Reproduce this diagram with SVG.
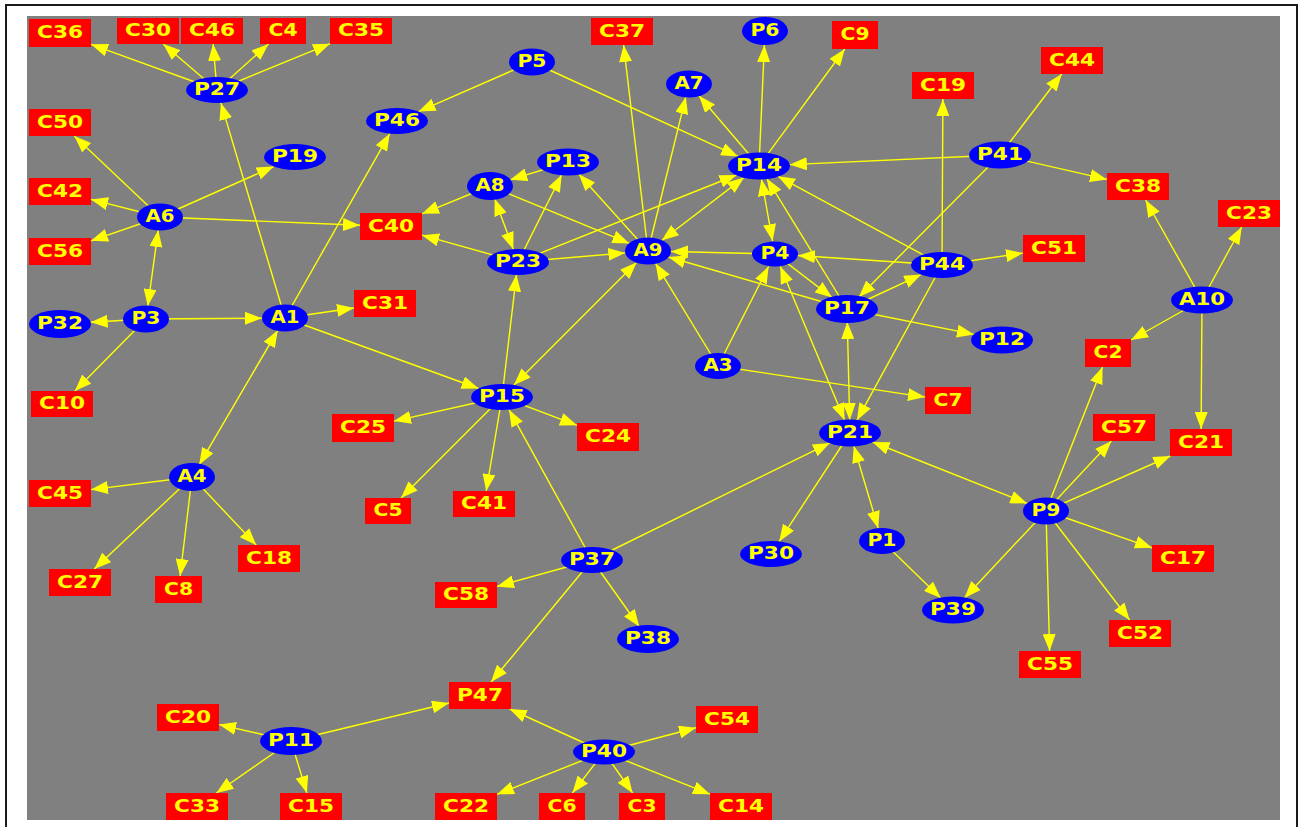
<svg xmlns="http://www.w3.org/2000/svg" width="1300" height="827" viewBox="0 0 1300 827">
  <defs>
    <marker id="ah" markerUnits="userSpaceOnUse" markerWidth="17" markerHeight="13" refX="17" refY="6.5" orient="auto-start-reverse" viewBox="0 0 17 13">
      <path d="M0,0 L17,6.5 L0,13 z" fill="#ffff00"/>
    </marker>
    <style>
      .e { stroke: #ffff00; stroke-width: 1.4; fill: none; marker-end: url(#ah); }
      .b { marker-start: url(#ah); }
      .o { fill: #0000ff; }
      .r { fill: #ff0000; }
      text { font-family: "DejaVu Sans", "Liberation Sans", sans-serif; font-weight: bold; font-size: 17px; fill: #ffff00; text-anchor: middle; }
    </style>
  </defs>

  <!-- page and canvas -->
  <rect x="0" y="0" width="1300" height="827" fill="#ffffff"/>
  <rect x="6" y="5" width="1291" height="830" fill="none" stroke="#1a1a1a" stroke-width="2"/>
  <rect x="27" y="16" width="1253" height="804" fill="#808080"/>

  <g id="connectors">
    <line class="e" x1="217" y1="90" x2="91" y2="44.3"/>
    <line class="e" x1="217" y1="90" x2="163.2" y2="44"/>
    <line class="e" x1="217" y1="90" x2="213.1" y2="44"/>
    <line class="e" x1="217" y1="90" x2="268.5" y2="44"/>
    <line class="e" x1="217" y1="90" x2="330" y2="43.7"/>
    <line class="e" x1="285" y1="318" x2="220.9" y2="102.9"/>
    <line class="e" x1="160" y1="217" x2="74.3" y2="136"/>
    <line class="e" x1="160" y1="217" x2="91" y2="199.4"/>
    <line class="e" x1="160" y1="217" x2="91" y2="240.8"/>
    <line class="e" x1="160" y1="217" x2="273.7" y2="166.5"/>
    <line class="e" x1="160" y1="217" x2="360" y2="225.2"/>
    <line class="e b" x1="147.8" y1="306" x2="158.2" y2="230"/>
    <line class="e" x1="146" y1="319" x2="90.7" y2="322.2"/>
    <line class="e" x1="146" y1="319" x2="262" y2="318.2"/>
    <line class="e" x1="146" y1="319" x2="74.9" y2="391"/>
    <line class="e" x1="285" y1="318" x2="354" y2="308"/>
    <line class="e" x1="285" y1="318" x2="389.8" y2="133.6"/>
    <line class="e" x1="285" y1="318" x2="478.6" y2="388.5"/>
    <line class="e b" x1="277.8" y1="330.3" x2="199.2" y2="464.7"/>
    <line class="e" x1="192" y1="477" x2="91" y2="489.6"/>
    <line class="e" x1="192" y1="477" x2="94.3" y2="569"/>
    <line class="e" x1="192" y1="477" x2="180.1" y2="576"/>
    <line class="e" x1="192" y1="477" x2="256.2" y2="545"/>
    <line class="e" x1="532" y1="62" x2="418.5" y2="111.6"/>
    <line class="e" x1="532" y1="62" x2="738.1" y2="156.4"/>
    <line class="e" x1="568" y1="162" x2="510.2" y2="179.8"/>
    <line class="e" x1="490" y1="186" x2="422" y2="213.8"/>
    <line class="e b" x1="513.3" y1="249.2" x2="494.7" y2="198.7"/>
    <line class="e" x1="490" y1="186" x2="629.4" y2="243.4"/>
    <line class="e" x1="518" y1="262" x2="422" y2="235.2"/>
    <line class="e" x1="518" y1="262" x2="561.7" y2="174.7"/>
    <line class="e" x1="518" y1="262" x2="625.3" y2="252.9"/>
    <line class="e" x1="518" y1="262" x2="736.5" y2="175"/>
    <line class="e" x1="502" y1="397" x2="516.5" y2="274.5"/>
    <line class="e b" x1="514" y1="385" x2="636.7" y2="262.3"/>
    <line class="e" x1="648" y1="251" x2="623.6" y2="45"/>
    <line class="e" x1="648" y1="251" x2="685.8" y2="96.9"/>
    <line class="e" x1="648" y1="251" x2="578.9" y2="174.2"/>
    <line class="e b" x1="744.1" y1="177.4" x2="661.7" y2="240.5"/>
    <line class="e" x1="775" y1="254" x2="671" y2="251.5"/>
    <line class="e" x1="847" y1="309" x2="668.4" y2="257"/>
    <line class="e" x1="718" y1="366" x2="655.5" y2="263.3"/>
    <line class="e" x1="718" y1="366" x2="768.6" y2="266.5"/>
    <line class="e" x1="718" y1="366" x2="925" y2="397.1"/>
    <line class="e" x1="759" y1="166" x2="699" y2="95.7"/>
    <line class="e" x1="759" y1="166" x2="764.4" y2="45"/>
    <line class="e" x1="759" y1="166" x2="844.8" y2="49"/>
    <line class="e" x1="1000" y1="155" x2="789.8" y2="164.6"/>
    <line class="e b" x1="772.6" y1="241.1" x2="761.4" y2="179"/>
    <line class="e" x1="847" y1="309" x2="766.8" y2="178.6"/>
    <line class="e" x1="942" y1="265" x2="778" y2="176.3"/>
    <line class="e" x1="942" y1="265" x2="797.9" y2="255.5"/>
    <line class="e" x1="942" y1="265" x2="942.9" y2="99"/>
    <line class="e" x1="942" y1="265" x2="1023" y2="253.1"/>
    <line class="e" x1="847" y1="309" x2="921.2" y2="274.6"/>
    <line class="e" x1="942" y1="265" x2="856.9" y2="420.3"/>
    <line class="e" x1="1000" y1="155" x2="858.9" y2="297"/>
    <line class="e" x1="1000" y1="155" x2="1061.7" y2="74"/>
    <line class="e" x1="1000" y1="155" x2="1107" y2="179.4"/>
    <line class="e" x1="775" y1="254" x2="832.1" y2="297.6"/>
    <line class="e" x1="847" y1="309" x2="974" y2="334.4"/>
    <line class="e b" x1="847.3" y1="322" x2="849.7" y2="420"/>
    <line class="e b" x1="780.3" y1="266.6" x2="844.6" y2="420.2"/>
    <line class="e" x1="850" y1="433" x2="779.2" y2="541.4"/>
    <line class="e b" x1="853.8" y1="445.9" x2="878.2" y2="528.2"/>
    <line class="e b" x1="872.5" y1="442" x2="1027.2" y2="503.5"/>
    <line class="e" x1="592" y1="560" x2="829.9" y2="442.9"/>
    <line class="e" x1="882" y1="541" x2="940.7" y2="598.1"/>
    <line class="e" x1="1046" y1="511" x2="964.4" y2="597.9"/>
    <line class="e" x1="1046" y1="511" x2="1102.5" y2="367"/>
    <line class="e" x1="1046" y1="511" x2="1111.4" y2="441"/>
    <line class="e" x1="1046" y1="511" x2="1170.4" y2="456"/>
    <line class="e" x1="1046" y1="511" x2="1152" y2="547.8"/>
    <line class="e" x1="1046" y1="511" x2="1129.6" y2="620"/>
    <line class="e" x1="1046" y1="511" x2="1049.6" y2="651"/>
    <line class="e" x1="1202" y1="300" x2="1145.6" y2="200"/>
    <line class="e" x1="1202" y1="300" x2="1241.7" y2="227"/>
    <line class="e" x1="1202" y1="300" x2="1131" y2="340"/>
    <line class="e" x1="1202" y1="300" x2="1201.1" y2="429"/>
    <line class="e" x1="502" y1="397" x2="394" y2="421.1"/>
    <line class="e" x1="502" y1="397" x2="577" y2="425.3"/>
    <line class="e" x1="502" y1="397" x2="401" y2="498"/>
    <line class="e" x1="502" y1="397" x2="486.2" y2="491"/>
    <line class="e" x1="592" y1="560" x2="509" y2="409.7"/>
    <line class="e" x1="592" y1="560" x2="497" y2="586.4"/>
    <line class="e" x1="592" y1="560" x2="639.2" y2="626.5"/>
    <line class="e" x1="592" y1="560" x2="491.1" y2="682"/>
    <line class="e" x1="291" y1="741" x2="219" y2="724.6"/>
    <line class="e" x1="291" y1="741" x2="216.4" y2="793"/>
    <line class="e" x1="291" y1="741" x2="306.9" y2="793"/>
    <line class="e" x1="291" y1="741" x2="449" y2="703"/>
    <line class="e" x1="604" y1="752" x2="509.7" y2="709"/>
    <line class="e" x1="604" y1="752" x2="696" y2="727.7"/>
    <line class="e" x1="604" y1="752" x2="497" y2="794.3"/>
    <line class="e" x1="604" y1="752" x2="572.4" y2="793"/>
    <line class="e" x1="604" y1="752" x2="632.6" y2="793"/>
    <line class="e" x1="604" y1="752" x2="710" y2="794.2"/>
  </g>

  <!-- oval nodes -->
  <g id="P27"><ellipse class="o" cx="217" cy="90" rx="31" ry="13"/><text x="217" y="95" textLength="46" lengthAdjust="spacingAndGlyphs">P27</text></g>
  <g id="P46"><ellipse class="o" cx="397" cy="121" rx="31" ry="13"/><text x="397" y="126" textLength="46" lengthAdjust="spacingAndGlyphs">P46</text></g>
  <g id="P19"><ellipse class="o" cx="295" cy="157" rx="31" ry="13"/><text x="295" y="162" textLength="46" lengthAdjust="spacingAndGlyphs">P19</text></g>
  <g id="A6"><ellipse class="o" cx="160" cy="217" rx="23" ry="13.5"/><text x="160" y="222" textLength="29" lengthAdjust="spacingAndGlyphs">A6</text></g>
  <g id="P5"><ellipse class="o" cx="532" cy="62" rx="23" ry="13.5"/><text x="532" y="67" textLength="29" lengthAdjust="spacingAndGlyphs">P5</text></g>
  <g id="P6"><ellipse class="o" cx="765" cy="31" rx="23" ry="14"/><text x="765" y="36" textLength="29" lengthAdjust="spacingAndGlyphs">P6</text></g>
  <g id="A7"><ellipse class="o" cx="689" cy="84" rx="23" ry="13.5"/><text x="689" y="89" textLength="29" lengthAdjust="spacingAndGlyphs">A7</text></g>
  <g id="P13"><ellipse class="o" cx="568" cy="162" rx="31" ry="13.5"/><text x="568" y="167" textLength="46" lengthAdjust="spacingAndGlyphs">P13</text></g>
  <g id="P14"><ellipse class="o" cx="759" cy="166" rx="31" ry="13.5"/><text x="759" y="171" textLength="46" lengthAdjust="spacingAndGlyphs">P14</text></g>
  <g id="A8"><ellipse class="o" cx="490" cy="186" rx="23" ry="14"/><text x="490" y="191" textLength="29" lengthAdjust="spacingAndGlyphs">A8</text></g>
  <g id="A9"><ellipse class="o" cx="648" cy="251" rx="23" ry="13.5"/><text x="648" y="256" textLength="29" lengthAdjust="spacingAndGlyphs">A9</text></g>
  <g id="P4"><ellipse class="o" cx="775" cy="254" rx="23" ry="12.5"/><text x="775" y="259" textLength="29" lengthAdjust="spacingAndGlyphs">P4</text></g>
  <g id="P23"><ellipse class="o" cx="518" cy="262" rx="31" ry="13"/><text x="518" y="267" textLength="46" lengthAdjust="spacingAndGlyphs">P23</text></g>
  <g id="P41"><ellipse class="o" cx="1000" cy="155" rx="31" ry="13.5"/><text x="1000" y="160" textLength="46" lengthAdjust="spacingAndGlyphs">P41</text></g>
  <g id="P44"><ellipse class="o" cx="942" cy="265" rx="31" ry="13"/><text x="942" y="270" textLength="46" lengthAdjust="spacingAndGlyphs">P44</text></g>
  <g id="P32"><ellipse class="o" cx="60" cy="324" rx="31" ry="14"/><text x="60" y="329" textLength="46" lengthAdjust="spacingAndGlyphs">P32</text></g>
  <g id="P3"><ellipse class="o" cx="146" cy="319" rx="23" ry="13.5"/><text x="146" y="324" textLength="29" lengthAdjust="spacingAndGlyphs">P3</text></g>
  <g id="A1"><ellipse class="o" cx="285" cy="318" rx="23" ry="13.5"/><text x="285" y="323" textLength="29" lengthAdjust="spacingAndGlyphs">A1</text></g>
  <g id="A4"><ellipse class="o" cx="192" cy="477" rx="23" ry="14"/><text x="192" y="482" textLength="29" lengthAdjust="spacingAndGlyphs">A4</text></g>
  <g id="P15"><ellipse class="o" cx="502" cy="397" rx="31" ry="13"/><text x="502" y="402" textLength="46" lengthAdjust="spacingAndGlyphs">P15</text></g>
  <g id="A3"><ellipse class="o" cx="718" cy="366" rx="23" ry="13"/><text x="718" y="371" textLength="29" lengthAdjust="spacingAndGlyphs">A3</text></g>
  <g id="P17"><ellipse class="o" cx="847" cy="309" rx="31" ry="14"/><text x="847" y="314" textLength="46" lengthAdjust="spacingAndGlyphs">P17</text></g>
  <g id="P21"><ellipse class="o" cx="850" cy="433" rx="31" ry="13.5"/><text x="850" y="438" textLength="46" lengthAdjust="spacingAndGlyphs">P21</text></g>
  <g id="A10"><ellipse class="o" cx="1202" cy="300" rx="31" ry="13.5"/><text x="1202" y="305" textLength="46" lengthAdjust="spacingAndGlyphs">A10</text></g>
  <g id="P12"><ellipse class="o" cx="1002" cy="340" rx="31" ry="13.5"/><text x="1002" y="345" textLength="46" lengthAdjust="spacingAndGlyphs">P12</text></g>
  <g id="P9"><ellipse class="o" cx="1046" cy="511" rx="23" ry="13.5"/><text x="1046" y="516" textLength="29" lengthAdjust="spacingAndGlyphs">P9</text></g>
  <g id="P1"><ellipse class="o" cx="882" cy="541" rx="23" ry="13"/><text x="882" y="546" textLength="29" lengthAdjust="spacingAndGlyphs">P1</text></g>
  <g id="P30"><ellipse class="o" cx="771" cy="554" rx="31" ry="13"/><text x="771" y="559" textLength="46" lengthAdjust="spacingAndGlyphs">P30</text></g>
  <g id="P37"><ellipse class="o" cx="592" cy="560" rx="31" ry="13"/><text x="592" y="565" textLength="46" lengthAdjust="spacingAndGlyphs">P37</text></g>
  <g id="P38"><ellipse class="o" cx="648" cy="639" rx="31" ry="14"/><text x="648" y="644" textLength="46" lengthAdjust="spacingAndGlyphs">P38</text></g>
  <g id="P39"><ellipse class="o" cx="953" cy="610" rx="31" ry="13.5"/><text x="953" y="615" textLength="46" lengthAdjust="spacingAndGlyphs">P39</text></g>
  <g id="P11"><ellipse class="o" cx="291" cy="741" rx="31" ry="14"/><text x="291" y="746" textLength="46" lengthAdjust="spacingAndGlyphs">P11</text></g>
  <g id="P40"><ellipse class="o" cx="604" cy="752" rx="31" ry="12.5"/><text x="604" y="757" textLength="46" lengthAdjust="spacingAndGlyphs">P40</text></g>

  <!-- box nodes -->
  <g id="C36"><rect class="r" x="29" y="19" width="62" height="28"/><text x="60" y="38" textLength="46" lengthAdjust="spacingAndGlyphs">C36</text></g>
  <g id="C30"><rect class="r" x="117" y="18" width="62" height="26"/><text x="148" y="36" textLength="46" lengthAdjust="spacingAndGlyphs">C30</text></g>
  <g id="C46"><rect class="r" x="181" y="18" width="62" height="26"/><text x="212" y="36" textLength="46" lengthAdjust="spacingAndGlyphs">C46</text></g>
  <g id="C4"><rect class="r" x="260" y="18" width="46" height="26"/><text x="283" y="36" textLength="29" lengthAdjust="spacingAndGlyphs">C4</text></g>
  <g id="C35"><rect class="r" x="330" y="18" width="62" height="26"/><text x="361" y="36" textLength="46" lengthAdjust="spacingAndGlyphs">C35</text></g>
  <g id="C50"><rect class="r" x="29" y="109" width="62" height="27"/><text x="60" y="128" textLength="46" lengthAdjust="spacingAndGlyphs">C50</text></g>
  <g id="C42"><rect class="r" x="29" y="178" width="62" height="27"/><text x="60" y="197" textLength="46" lengthAdjust="spacingAndGlyphs">C42</text></g>
  <g id="C56"><rect class="r" x="29" y="238" width="62" height="27"/><text x="60" y="257" textLength="46" lengthAdjust="spacingAndGlyphs">C56</text></g>
  <g id="C40"><rect class="r" x="360" y="213" width="62" height="27"/><text x="391" y="232" textLength="46" lengthAdjust="spacingAndGlyphs">C40</text></g>
  <g id="C37"><rect class="r" x="591" y="18" width="62" height="27"/><text x="622" y="37" textLength="46" lengthAdjust="spacingAndGlyphs">C37</text></g>
  <g id="C9"><rect class="r" x="832" y="21" width="46" height="28"/><text x="855" y="40" textLength="29" lengthAdjust="spacingAndGlyphs">C9</text></g>
  <g id="C44"><rect class="r" x="1041" y="47" width="62" height="27"/><text x="1072" y="66" textLength="46" lengthAdjust="spacingAndGlyphs">C44</text></g>
  <g id="C19"><rect class="r" x="912" y="72" width="62" height="27"/><text x="943" y="91" textLength="46" lengthAdjust="spacingAndGlyphs">C19</text></g>
  <g id="C38"><rect class="r" x="1107" y="173" width="62" height="27"/><text x="1138" y="192" textLength="46" lengthAdjust="spacingAndGlyphs">C38</text></g>
  <g id="C23"><rect class="r" x="1218" y="200" width="62" height="27"/><text x="1249" y="219" textLength="46" lengthAdjust="spacingAndGlyphs">C23</text></g>
  <g id="C51"><rect class="r" x="1023" y="235" width="62" height="27"/><text x="1054" y="254" textLength="46" lengthAdjust="spacingAndGlyphs">C51</text></g>
  <g id="C31"><rect class="r" x="354" y="290" width="62" height="27"/><text x="385" y="309" textLength="46" lengthAdjust="spacingAndGlyphs">C31</text></g>
  <g id="C10"><rect class="r" x="31" y="391" width="62" height="26"/><text x="62" y="409" textLength="46" lengthAdjust="spacingAndGlyphs">C10</text></g>
  <g id="C25"><rect class="r" x="332" y="414" width="62" height="28"/><text x="363" y="433" textLength="46" lengthAdjust="spacingAndGlyphs">C25</text></g>
  <g id="C45"><rect class="r" x="29" y="480" width="62" height="27"/><text x="60" y="499" textLength="46" lengthAdjust="spacingAndGlyphs">C45</text></g>
  <g id="C5"><rect class="r" x="365" y="498" width="46" height="26"/><text x="388" y="516" textLength="29" lengthAdjust="spacingAndGlyphs">C5</text></g>
  <g id="C18"><rect class="r" x="238" y="545" width="62" height="27"/><text x="269" y="564" textLength="46" lengthAdjust="spacingAndGlyphs">C18</text></g>
  <g id="C24"><rect class="r" x="577" y="423" width="62" height="28"/><text x="608" y="442" textLength="46" lengthAdjust="spacingAndGlyphs">C24</text></g>
  <g id="C41"><rect class="r" x="453" y="491" width="62" height="26"/><text x="484" y="509" textLength="46" lengthAdjust="spacingAndGlyphs">C41</text></g>
  <g id="C2"><rect class="r" x="1085" y="339" width="46" height="28"/><text x="1108" y="358" textLength="29" lengthAdjust="spacingAndGlyphs">C2</text></g>
  <g id="C7"><rect class="r" x="925" y="387" width="46" height="27"/><text x="948" y="406" textLength="29" lengthAdjust="spacingAndGlyphs">C7</text></g>
  <g id="C57"><rect class="r" x="1093" y="414" width="62" height="27"/><text x="1124" y="433" textLength="46" lengthAdjust="spacingAndGlyphs">C57</text></g>
  <g id="C21"><rect class="r" x="1170" y="429" width="62" height="27"/><text x="1201" y="448" textLength="46" lengthAdjust="spacingAndGlyphs">C21</text></g>
  <g id="C17"><rect class="r" x="1152" y="545" width="62" height="27"/><text x="1183" y="564" textLength="46" lengthAdjust="spacingAndGlyphs">C17</text></g>
  <g id="C27"><rect class="r" x="49" y="569" width="62" height="27"/><text x="80" y="588" textLength="46" lengthAdjust="spacingAndGlyphs">C27</text></g>
  <g id="C8"><rect class="r" x="155" y="576" width="47" height="27"/><text x="178.5" y="595" textLength="29" lengthAdjust="spacingAndGlyphs">C8</text></g>
  <g id="C20"><rect class="r" x="157" y="704" width="62" height="27"/><text x="188" y="723" textLength="46" lengthAdjust="spacingAndGlyphs">C20</text></g>
  <g id="C33"><rect class="r" x="166" y="793" width="62" height="27"/><text x="197" y="812" textLength="46" lengthAdjust="spacingAndGlyphs">C33</text></g>
  <g id="C15"><rect class="r" x="280" y="793" width="62" height="27"/><text x="311" y="812" textLength="46" lengthAdjust="spacingAndGlyphs">C15</text></g>
  <g id="C58"><rect class="r" x="435" y="582" width="62" height="26"/><text x="466" y="600" textLength="46" lengthAdjust="spacingAndGlyphs">C58</text></g>
  <g id="P47"><rect class="r" x="449" y="682" width="62" height="27"/><text x="480" y="701" textLength="46" lengthAdjust="spacingAndGlyphs">P47</text></g>
  <g id="C54"><rect class="r" x="696" y="706" width="62" height="27"/><text x="727" y="725" textLength="46" lengthAdjust="spacingAndGlyphs">C54</text></g>
  <g id="C22"><rect class="r" x="435" y="793" width="62" height="27"/><text x="466" y="812" textLength="46" lengthAdjust="spacingAndGlyphs">C22</text></g>
  <g id="C6"><rect class="r" x="539" y="793" width="46" height="27"/><text x="562" y="812" textLength="29" lengthAdjust="spacingAndGlyphs">C6</text></g>
  <g id="C3"><rect class="r" x="619" y="793" width="46" height="27"/><text x="642" y="812" textLength="29" lengthAdjust="spacingAndGlyphs">C3</text></g>
  <g id="C14"><rect class="r" x="710" y="793" width="62" height="27"/><text x="741" y="812" textLength="46" lengthAdjust="spacingAndGlyphs">C14</text></g>
  <g id="C55"><rect class="r" x="1019" y="651" width="62" height="27"/><text x="1050" y="670" textLength="46" lengthAdjust="spacingAndGlyphs">C55</text></g>
  <g id="C52"><rect class="r" x="1109" y="620" width="62" height="27"/><text x="1140" y="639" textLength="46" lengthAdjust="spacingAndGlyphs">C52</text></g>
</svg>
